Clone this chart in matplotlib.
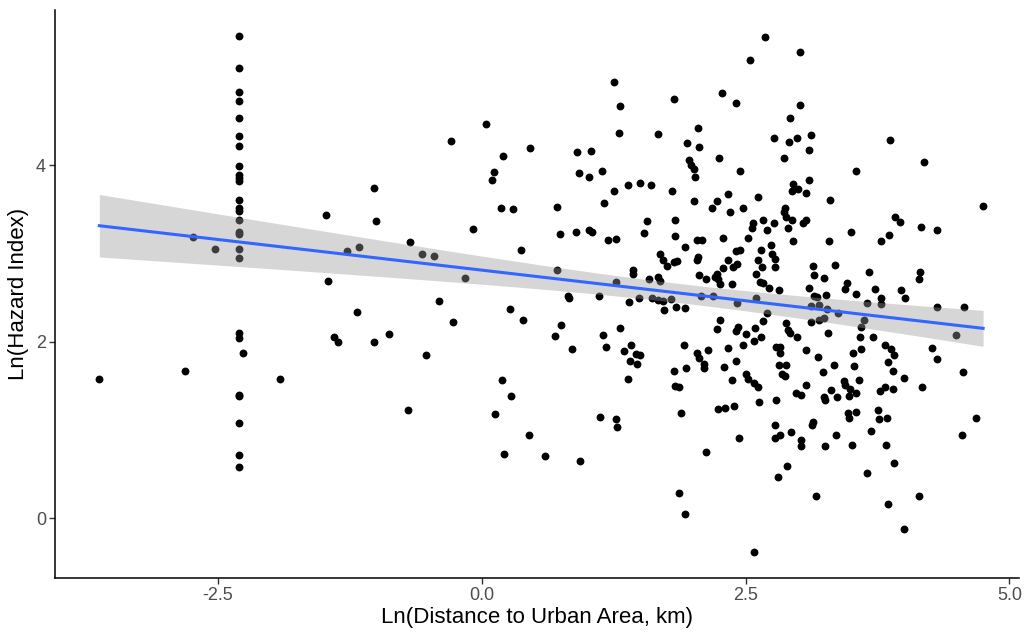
import numpy as np
import matplotlib.pyplot as plt

plt.rcParams['font.family'] = ['Liberation Sans', 'DejaVu Sans']

# Sites sharing the same (minimum) distance value
col_dist = -2.30
col_hazard = [5.47, 5.10, 4.83, 4.73, 4.53, 4.33, 4.22, 3.99, 3.89, 3.86, 3.82,
              3.61, 3.52, 3.48, 3.38, 3.24, 3.22, 3.05, 2.95, 2.10, 2.04, 1.39,
              1.38, 1.08, 0.72, 0.58]

# Remaining sites, west to east
dist_west = [-3.62, -2.81, -1.91, -2.26, -2.73, -2.52,
             0.04, -0.29, 0.20, 0.12, 0.10, -1.02, -1.47, -1.00, 0.18, -0.08,
             -0.68, -1.27, -1.16, -0.56, -0.45, -0.16, -1.45, -0.40, -1.18, -0.27,
             -1.40, -1.36, -1.02, -0.88, -0.53, 0.19, -0.70, 0.13, 0.21]
hazard_west = [1.58, 1.67, 1.58, 1.87, 3.19, 3.05,
               4.47, 4.28, 4.11, 3.92, 3.83, 3.74, 3.44, 3.37, 3.52, 3.28,
               3.13, 3.03, 3.07, 2.99, 2.97, 2.72, 2.69, 2.46, 2.34, 2.22,
               2.05, 2.00, 2.00, 2.09, 1.85, 1.56, 1.22, 1.18, 0.73]

dist_mid = [0.46, 0.90, 1.04, 0.92, 1.02, 1.14, 0.30, 0.71, 1.16, 0.74, 0.89,
            1.02, 1.05, 1.20, 0.37, 0.71, 0.82, 0.83, 1.11, 0.27,
            0.39, 0.75, 0.70, 1.15, 1.18, 0.86, 0.28, 1.12, 0.45, 0.60, 0.93,
            1.25, 1.82, 1.31, 1.30, 1.67, 2.05, 1.95, 2.06, 1.96, 1.98, 2.01,
            2.02, 1.39, 1.50, 1.60, 1.25, 1.80, 2.01, 1.57, 1.83, 1.54, 1.83,
            1.27, 1.93, 2.04, 2.09, 1.69, 1.72, 1.76, 1.82, 1.85, 2.05, 2.04,
            1.43, 1.43, 1.59, 1.67, 1.69, 2.06, 2.13, 1.27, 1.49, 1.61, 1.67,
            1.72, 1.79, 1.40, 2.08, 1.84, 1.93, 1.73,
            1.31, 1.42, 1.35, 1.46, 1.50, 1.41, 1.47, 1.39, 1.92, 2.04, 2.06,
            2.14, 2.11, 2.11, 1.82, 1.94, 1.83, 1.87, 1.89, 1.27, 1.28, 2.13,
            1.87, 1.93]
hazard_mid = [4.20, 4.15, 4.16, 3.91, 3.87, 3.94, 3.50, 3.53, 3.57, 3.22, 3.24,
              3.27, 3.24, 3.15, 3.04, 2.81, 2.52, 2.49, 2.52, 2.37,
              2.24, 2.19, 2.06, 2.07, 1.94, 1.92, 1.38, 1.14, 0.94, 0.70, 0.65,
              4.94, 4.75, 4.67, 4.37, 4.35, 4.42, 4.25, 4.21, 4.06, 4.00, 3.96,
              3.87, 3.78, 3.80, 3.78, 3.71, 3.71, 3.60, 3.37, 3.38, 3.23, 3.20,
              3.16, 3.07, 3.15, 3.15, 2.99, 2.93, 2.86, 2.90, 2.91, 2.96, 2.92,
              2.81, 2.77, 2.71, 2.73, 2.69, 2.76, 2.71, 2.68, 2.50, 2.49, 2.47,
              2.46, 2.48, 2.45, 2.52, 2.39, 2.38, 2.36,
              2.16, 1.96, 1.89, 1.86, 1.85, 1.78, 1.75, 1.58, 1.96, 1.87, 1.82,
              1.90, 1.75, 1.70, 1.67, 1.70, 1.50, 1.48, 1.19, 1.12, 1.03, 0.75,
              0.28, 0.04]

dist_east = [2.68, 3.02, 2.54, 2.28, 2.41, 3.02, 2.92, 2.77, 2.91, 2.99, 3.12,
             3.10, 2.25, 2.86, 2.45, 2.95, 2.94, 3.00, 3.07, 3.10, 2.33, 2.62,
             2.23, 2.18, 2.35, 2.48, 2.87, 2.86, 2.88, 2.67, 2.77, 2.94, 3.04,
             3.07, 2.57, 2.56, 2.70, 2.90, 2.29, 2.52, 2.95, 2.41, 2.45, 2.65,
             2.74, 2.75, 2.78, 2.33, 2.42, 2.38, 2.29, 2.62, 2.66, 2.78, 2.60,
             2.23, 2.21, 2.24, 2.26, 2.37, 2.64, 2.67, 2.72, 2.82, 3.10, 2.19,
             2.42, 2.60,
             2.70, 2.67, 2.26, 2.23, 2.43, 2.41, 2.50, 2.59, 2.65, 2.58, 2.88,
             2.90, 2.92, 2.99, 3.12, 2.33, 2.48, 2.79, 2.83, 2.83, 3.07, 2.30,
             2.41, 2.82, 2.88, 2.85, 2.87, 2.50, 2.52, 2.58, 2.62, 2.37, 3.07,
             2.98, 3.03, 2.79, 2.63, 2.24, 2.31, 2.39, 2.78, 2.83, 2.78, 2.93,
             3.03, 3.03, 2.44, 2.89, 2.81, 2.58]
hazard_east = [5.45, 5.28, 5.19, 4.82, 4.71, 4.68, 4.54, 4.31, 4.26, 4.31, 4.34,
               4.17, 4.08, 4.08, 3.94, 3.79, 3.71, 3.73, 3.69, 3.83, 3.67, 3.64,
               3.60, 3.51, 3.47, 3.51, 3.51, 3.47, 3.41, 3.38, 3.35, 3.38, 3.35,
               3.38, 3.35, 3.29, 3.26, 3.29, 3.17, 3.18, 3.14, 3.03, 3.04, 3.04,
               3.10, 2.99, 2.94, 2.92, 2.88, 2.85, 2.83, 2.92, 2.85, 2.85, 2.77,
               2.77, 2.73, 2.71, 2.65, 2.65, 2.68, 2.66, 2.61, 2.59, 2.61, 2.52,
               2.44, 2.49,
               2.32, 2.23, 2.24, 2.14, 2.17, 2.12, 2.09, 2.15, 2.05, 2.01, 2.21,
               2.13, 2.10, 2.05, 2.22, 1.93, 1.96, 1.94, 1.94, 1.87, 1.90, 1.71,
               1.78, 1.73, 1.73, 1.63, 1.61, 1.63, 1.58, 1.53, 1.48, 1.56, 1.51,
               1.42, 1.39, 1.34, 1.31, 1.24, 1.25, 1.27, 1.05, 0.94, 0.91, 0.97,
               0.89, 0.82, 0.91, 0.59, 0.47, -0.39]

dist_far = [3.87, 3.55, 3.30, 3.92, 3.96, 3.50, 3.29, 3.86, 3.78, 3.14, 3.35,
            3.15, 3.24, 3.67, 3.46, 3.44, 3.73, 3.97, 4.01, 3.15, 3.18, 3.26,
            3.55, 3.78, 3.78, 3.65, 3.12, 3.20, 3.27,
            3.38, 3.20, 3.24, 3.62, 3.59, 3.28, 3.58, 3.71, 3.82, 3.88, 3.91,
            3.59, 3.52, 3.19, 3.34, 3.53, 3.85, 3.90, 4.00, 3.23, 3.57, 3.43,
            3.44, 3.49, 3.55, 3.48, 3.31, 3.24, 3.25, 3.37, 3.77, 3.82, 3.90,
            3.47, 3.48, 3.55, 3.14, 3.13, 3.75, 3.76, 3.84, 3.69, 3.36, 3.25,
            3.51, 3.83, 3.91, 3.65, 3.17, 3.85, 4.00,
            4.19, 4.75, 4.16, 4.31, 4.15, 4.14, 4.31, 4.57, 4.49, 4.27, 4.31,
            4.56, 4.17, 4.68, 4.55, 4.14]
hazard_far = [4.29, 3.93, 3.61, 3.41, 3.36, 3.24, 3.14, 3.21, 3.14, 2.86, 2.87,
              2.76, 2.72, 2.79, 2.66, 2.60, 2.60, 2.59, 2.50, 2.52, 2.51, 2.53,
              2.54, 2.50, 2.43, 2.44, 2.40, 2.42, 2.37,
              2.33, 2.24, 2.27, 2.24, 2.17, 2.10, 2.05, 2.05, 1.96, 1.92, 1.85,
              1.92, 1.87, 1.83, 1.73, 1.72, 1.77, 1.67, 1.59, 1.65, 1.56, 1.55,
              1.51, 1.46, 1.42, 1.38, 1.45, 1.37, 1.34, 1.37, 1.44, 1.48, 1.46,
              1.19, 1.13, 1.20, 1.09, 1.05, 1.23, 1.12, 1.13, 0.99, 0.94, 0.82,
              0.83, 0.83, 0.62, 0.51, 0.25, 0.16, -0.12,
              4.04, 3.54, 3.30, 3.26, 2.79, 2.71, 2.39, 2.39, 2.07, 1.93, 1.80,
              1.66, 1.48, 1.13, 0.94, 0.25]

x = np.concatenate([np.full(len(col_hazard), col_dist), dist_west, dist_mid,
                    dist_east, dist_far])
y = np.concatenate([col_hazard, hazard_west, hazard_mid, hazard_east, hazard_far])

# linear fit with 95% confidence band (like geom_smooth(method = "lm"))
n = len(x)
slope, intercept = np.polyfit(x, y, 1)
resid = y - (slope * x + intercept)
s = np.sqrt(np.sum(resid ** 2) / (n - 2))
xs = np.linspace(x.min(), x.max(), 200)
fit = slope * xs + intercept
se = s * np.sqrt(1 / n + (xs - x.mean()) ** 2 / np.sum((x - x.mean()) ** 2))
t_crit = 1.967

fig = plt.figure(figsize=(10.26, 6.35), dpi=100)
ax = fig.add_axes([55 / 1026, 57 / 635, 964 / 1026, 568 / 635])

ax.scatter(x, y, s=32, color='black', linewidths=0, zorder=2)
ax.fill_between(xs, fit - t_crit * se, fit + t_crit * se, color='#999999',
                alpha=0.4, linewidth=0, zorder=3)
ax.plot(xs, fit, color='#3366FF', linewidth=2.2, zorder=4)

ax.set_xlim(-4.04, 5.09)
ax.set_ylim(-0.68, 5.76)
ax.set_xticks([-2.5, 0.0, 2.5, 5.0])
ax.set_xticklabels(['-2.5', '0.0', '2.5', '5.0'])
ax.set_yticks([0, 2, 4])

for side in ['top', 'right']:
    ax.spines[side].set_visible(False)
for side in ['left', 'bottom']:
    ax.spines[side].set_linewidth(1.1)
    ax.spines[side].set_color('black')
ax.tick_params(axis='both', length=4, width=1, color='#333333',
               labelsize=13, labelcolor='#4D4D4D', pad=2.5)

ax.set_xlabel('Ln(Distance to Urban Area, km)', fontsize=16, labelpad=2)
ax.set_ylabel('Ln(Hazard Index)', fontsize=16, labelpad=5)

fig.savefig('out.png', dpi=100)
